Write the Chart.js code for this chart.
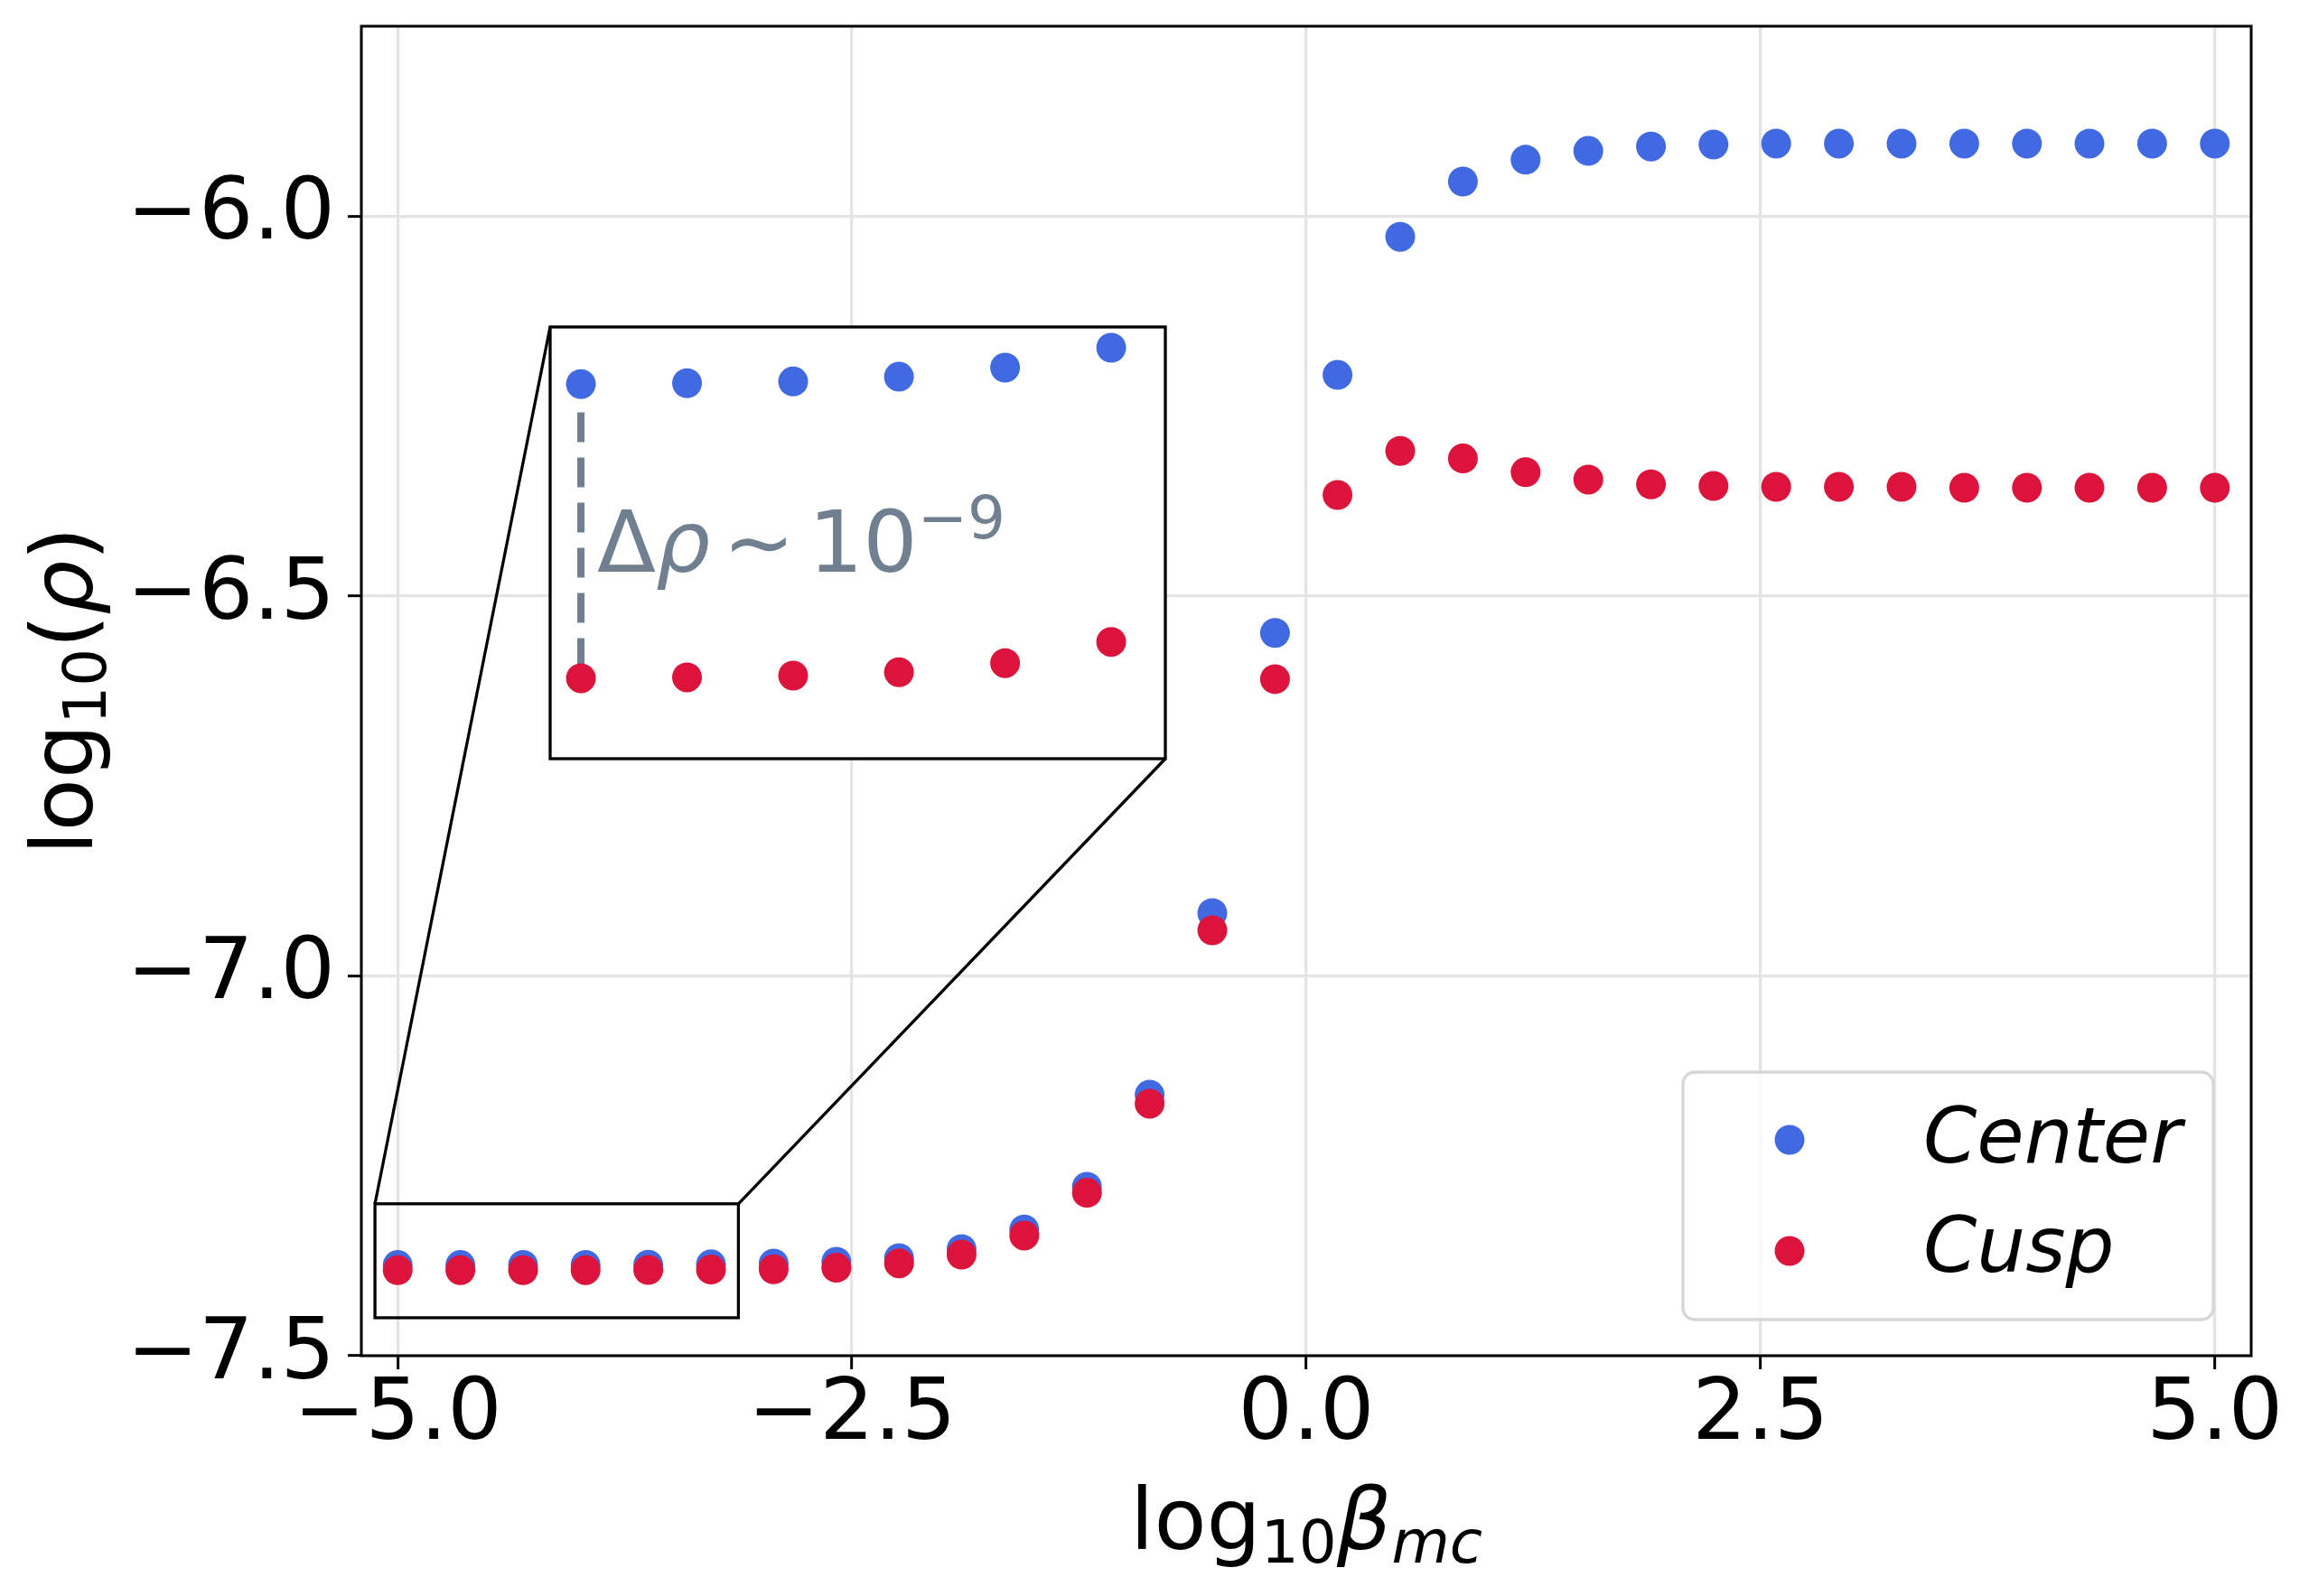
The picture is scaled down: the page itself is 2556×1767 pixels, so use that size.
<!DOCTYPE html>
<html>
<head>
<meta charset="utf-8">
<script src="https://cdn.jsdelivr.net/npm/chart.js@4.4.0/dist/chart.umd.min.js"></script>
<style>
  html, body { margin: 0; padding: 0; background: #fff; }
  #wrap { position: relative; width: 2556px; height: 1767px; }
  #main { position: absolute; left: 0; top: 0; }
  #inset { position: absolute; }
</style>
</head>
<body>
<div id="wrap">
  <canvas id="main" width="2556" height="1767"></canvas>
  <canvas id="inset"></canvas>
</div>
<script>
// log10(beta_mc) sampled on the x axis
const logBeta = [-5.000, -4.655, -4.310, -3.966, -3.621, -3.276, -2.931, -2.586, -2.241, -1.897,
                 -1.552, -1.207, -0.862, -0.517, -0.172, 0.172, 0.517, 0.862, 1.207, 1.552,
                 1.897, 2.241, 2.586, 2.931, 3.276, 3.621, 3.966, 4.310, 4.655, 5.000];
// log10(rho) at the center
const rhoCenter = [-7.3806, -7.38058, -7.38054, -7.38043, -7.38022, -7.37976, -7.3786, -7.3763, -7.3715, -7.3597,
                   -7.3339, -7.2776, -7.1565, -6.9174, -6.5486, -6.2090, -6.0272, -5.9545, -5.9258, -5.9142,
                   -5.9083, -5.9057, -5.9045, -5.9045, -5.9045, -5.9045, -5.9045, -5.9045, -5.9045, -5.9045];
// log10(rho) at the cusp
const rhoCusp = [-7.3874, -7.38738, -7.38734, -7.38726, -7.38705, -7.38656, -7.3862, -7.3842, -7.3783, -7.3668,
                 -7.3418, -7.2855, -7.1682, -6.9400, -6.6094, -6.3670, -6.3090, -6.3190, -6.3370, -6.3467,
                 -6.3530, -6.3551, -6.3563, -6.3563, -6.3563, -6.3575, -6.3575, -6.3575, -6.3575, -6.3575];
const seriesNames = ["Center", "Cusp"];
const xTicks = [-5.0, -2.5, 0.0, 2.5, 5.0];
const yTicks = [-7.5, -7.0, -6.5, -6.0];
const insetCount = 6; // first points repeated in the zoom

const BLUE = "#4169E1", RED = "#DC143C", GREY = "#708090";
const FONT = "'DejaVu Sans', sans-serif";
const R = 16.5;

// zoom window on the main axes, and the inset axes limits
const zoomX = [-5.125, -3.125];
const zoomY = [-7.45, -7.30];
const insetX = [-5.1, -3.1];
const insetY = [-7.38926, -7.37928];
const insetBox = { left: 609, top: 362, width: 681, height: 478 };

function pts(ys, n) {
  return logBeta.slice(0, n || logBeta.length).map((x, i) => ({ x: x, y: ys[i] }));
}
function fmt(v) {
  return (v < 0 ? "\u2212" : "") + Math.abs(v).toFixed(1);
}
function fontOf(p) {
  return (p.it ? "italic " : "") + (p.size || 95) + "px " + FONT;
}
// draws a row of text pieces (sub/superscripts), x is the start
function drawPieces(ctx, parts, x, y) {
  let cx = x;
  parts.forEach((p) => {
    cx += p.pre || 0;
    ctx.font = fontOf(p);
    ctx.fillText(p.t, cx, y + (p.dy || 0));
    cx += ctx.measureText(p.t).width;
  });
}
function piecesWidth(ctx, parts) {
  let w = 0;
  parts.forEach((p) => {
    ctx.font = fontOf(p);
    w += (p.pre || 0) + ctx.measureText(p.t).width;
  });
  return w;
}

const xLabel = [
  { t: "log" }, { t: "10", size: 66, dy: 15 }, { t: "\u03B2", it: true }, { t: "mc", it: true, size: 66, dy: 15 },
];
const yLabel = [
  { t: "log" }, { t: "10", size: 66, dy: 15 }, { t: "(" }, { t: "\u03C1", it: true }, { t: ")" },
];

const mainDeco = {
  id: "mainDeco",
  afterDatasetsDraw(chart) {
    const ctx = chart.ctx, a = chart.chartArea;
    const sx = chart.scales.x, sy = chart.scales.y;
    ctx.save();
    ctx.strokeStyle = "#000";
    ctx.lineWidth = 3;
    ctx.strokeRect(a.left, a.top, a.right - a.left, a.bottom - a.top);

    // zoomed region and connectors
    const zl = sx.getPixelForValue(zoomX[0]), zr = sx.getPixelForValue(zoomX[1]);
    const zt = sy.getPixelForValue(zoomY[1]), zb = sy.getPixelForValue(zoomY[0]);
    ctx.lineWidth = 3.3;
    ctx.strokeRect(zl, zt, zr - zl, zb - zt);
    ctx.beginPath();
    ctx.moveTo(zl, zt);
    ctx.lineTo(insetBox.left, insetBox.top);
    ctx.moveTo(zr, zt);
    ctx.lineTo(insetBox.left + insetBox.width, insetBox.top + insetBox.height);
    ctx.stroke();

    // legend
    const lx = 1863, ly = 1187, lw = 587, lh = 274, rr = 13;
    ctx.beginPath();
    ctx.roundRect(lx, ly, lw, lh, rr);
    ctx.fillStyle = "rgba(255,255,255,0.8)";
    ctx.fill();
    ctx.strokeStyle = "#d6d6d6";
    ctx.lineWidth = 3.3;
    ctx.stroke();
    const rows = [{ c: BLUE, my: 1262, by: 1287 }, { c: RED, my: 1385, by: 1408 }];
    rows.forEach((r, i) => {
      ctx.beginPath();
      ctx.arc(1981, r.my, R, 0, Math.PI * 2);
      ctx.fillStyle = r.c;
      ctx.fill();
      ctx.fillStyle = "#000";
      ctx.font = "italic 85px " + FONT;
      ctx.textBaseline = "alphabetic";
      ctx.textAlign = "left";
      ctx.fillText(seriesNames[i], 2129, r.by);
    });

    // axis titles
    ctx.fillStyle = "#000";
    ctx.textAlign = "left";
    ctx.textBaseline = "alphabetic";
    const xc = (a.left + a.right) / 2;
    drawPieces(ctx, xLabel, xc - piecesWidth(ctx, xLabel) / 2, 1715);
    ctx.translate(102, (a.top + a.bottom) / 2);
    ctx.rotate(-Math.PI / 2);
    drawPieces(ctx, yLabel, -piecesWidth(ctx, yLabel) / 2, 0);
    ctx.restore();
  },
};

let mainChart = new Chart(document.querySelector("#main"), {
  type: "scatter",
  data: {
    datasets: [
      { label: seriesNames[0], data: pts(rhoCenter), backgroundColor: BLUE, pointRadius: R, pointHoverRadius: R, borderWidth: 0, order: 1 },
      { label: seriesNames[1], data: pts(rhoCusp), backgroundColor: RED, pointRadius: R, pointHoverRadius: R, borderWidth: 0, order: 0 },
    ],
  },
  options: {
    responsive: false,
    animation: false,
    devicePixelRatio: 1,
    layout: { autoPadding: false, padding: { top: 29, right: 64, left: 0, bottom: 0 } },
    plugins: { legend: { display: false }, tooltip: { enabled: false } },
    scales: {
      x: {
        type: "linear", min: -5.2, max: 5.2,
        afterFit: (s) => { s.height = 266; s.paddingLeft = 0; s.paddingRight = 0; },
        afterBuildTicks: (s) => { s.ticks = xTicks.map((v) => ({ value: v })); },
        grid: { color: "#e4e4e4", lineWidth: 3.3, tickColor: "#000", tickWidth: 3, tickLength: 15 },
        border: { display: false },
        ticks: { font: { family: FONT, size: 95, lineHeight: 1 }, color: "#000", padding: 5, maxRotation: 0, autoSkip: false, callback: fmt },
      },
      y: {
        type: "linear", min: -7.5, max: -5.75,
        afterFit: (s) => { s.width = 400; s.paddingTop = 0; s.paddingBottom = 0; },
        afterBuildTicks: (s) => { s.ticks = yTicks.map((v) => ({ value: v })); },
        grid: { color: "#e4e4e4", lineWidth: 3.3, tickColor: "#000", tickWidth: 3, tickLength: 15 },
        border: { display: false },
        ticks: { font: { family: FONT, size: 95, lineHeight: 1 }, color: "#000", padding: 14, autoSkip: false, callback: fmt },
      },
    },
  },
  plugins: [mainDeco],
});

// ****** inset ******
let insetCanvas = document.querySelector("#inset");
insetCanvas.width = insetBox.width + 6;
insetCanvas.height = insetBox.height + 6;
insetCanvas.style.left = insetBox.left - 3 + "px";
insetCanvas.style.top = insetBox.top - 3 + "px";

const insetDeco = {
  id: "insetDeco",
  beforeDatasetsDraw(chart) {
    const ctx = chart.ctx, a = chart.chartArea;
    ctx.save();
    ctx.fillStyle = "#fff";
    ctx.fillRect(a.left, a.top, a.right - a.left, a.bottom - a.top);
    ctx.restore();
  },
  afterDatasetsDraw(chart) {
    const ctx = chart.ctx, a = chart.chartArea;
    ctx.save();
    ctx.strokeStyle = "#000";
    ctx.lineWidth = 3.3;
    ctx.strokeRect(a.left, a.top, a.right - a.left, a.bottom - a.top);
    ctx.fillStyle = GREY;
    ctx.textAlign = "left";
    ctx.textBaseline = "alphabetic";
    drawPieces(ctx, [
      { t: "\u0394" }, { t: "\u03C1", it: true }, { t: "\u223C", pre: 14 }, { t: "10", pre: 15 }, { t: "\u22129", size: 66, dy: -37 },
    ], a.left + 52, a.top + 271);
    ctx.restore();
  },
};

let insetChart = new Chart(insetCanvas, {
  type: "scatter",
  data: {
    datasets: [
      {
        type: "line", showLine: true,
        data: [{ x: logBeta[0], y: rhoCenter[0] }, { x: logBeta[0], y: rhoCusp[0] }],
        borderColor: GREY, borderWidth: 8, borderDash: [33, 17], borderDashOffset: 18.6,
        pointRadius: 0, order: 2,
      },
      { label: seriesNames[0], data: pts(rhoCenter, insetCount), backgroundColor: BLUE, pointRadius: R, borderWidth: 0, order: 1 },
      { label: seriesNames[1], data: pts(rhoCusp, insetCount), backgroundColor: RED, pointRadius: R, borderWidth: 0, order: 0 },
    ],
  },
  options: {
    responsive: false,
    animation: false,
    devicePixelRatio: 1,
    layout: { autoPadding: false, padding: 3 },
    plugins: { legend: { display: false }, tooltip: { enabled: false } },
    scales: {
      x: { type: "linear", display: false, min: insetX[0], max: insetX[1] },
      y: { type: "linear", display: false, min: insetY[0], max: insetY[1] },
    },
  },
  plugins: [insetDeco],
});
</script>
</body>
</html>
